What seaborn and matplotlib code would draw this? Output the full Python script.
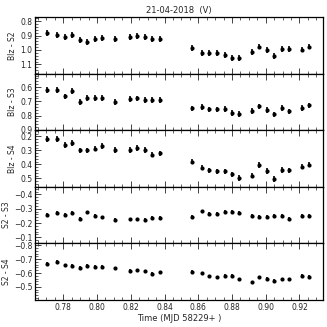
import numpy as np
import pandas as pd
import matplotlib
matplotlib.use('Agg')
import matplotlib.pyplot as plt
from matplotlib.ticker import MultipleLocator, AutoMinorLocator
import seaborn as sns

# time of each frame (MJD - 58229)
time = [0.7705, 0.7764, 0.7810, 0.7853, 0.7899, 0.7942, 0.7988, 0.8031, 0.8107,
        0.8196, 0.8239, 0.8283, 0.8328, 0.8374,
        0.8563, 0.8623, 0.8666, 0.8712, 0.8758, 0.8802, 0.8844, 0.8919, 0.8963,
        0.9006, 0.9050, 0.9095, 0.9139, 0.9214, 0.9257]

blz_s2 = [0.880, 0.894, 0.910, 0.894, 0.933, 0.945, 0.926, 0.915, 0.926, 0.908,
          0.903, 0.908, 0.926, 0.926, 0.987, 1.020, 1.020, 1.020, 1.032, 1.053,
          1.055, 1.013, 0.976, 1.001, 1.044, 0.994, 0.994, 0.997, 0.976]
blz_s3 = [0.623, 0.623, 0.666, 0.626, 0.705, 0.675, 0.677, 0.677, 0.705, 0.684,
          0.680, 0.691, 0.691, 0.691, 0.750, 0.741, 0.757, 0.757, 0.755, 0.783,
          0.787, 0.766, 0.736, 0.762, 0.792, 0.745, 0.771, 0.748, 0.729]
blz_s4 = [0.219, 0.219, 0.259, 0.247, 0.300, 0.300, 0.287, 0.270, 0.296, 0.296,
          0.284, 0.298, 0.329, 0.321, 0.380, 0.422, 0.443, 0.450, 0.450, 0.471,
          0.496, 0.480, 0.405, 0.448, 0.502, 0.441, 0.443, 0.415, 0.401]
s2_s3 = [-0.259, -0.271, -0.256, -0.271, -0.231, -0.275, -0.252, -0.240, -0.224, -0.226,
         -0.226, -0.224, -0.238, -0.238, -0.242, -0.282, -0.266, -0.266, -0.280, -0.278,
         -0.273, -0.249, -0.242, -0.245, -0.252, -0.252, -0.231, -0.252, -0.252]
s2_s4 = [-0.667, -0.679, -0.655, -0.652, -0.636, -0.650, -0.643, -0.645, -0.633, -0.614,
         -0.619, -0.612, -0.595, -0.605, -0.610, -0.598, -0.576, -0.569, -0.579, -0.579,
         -0.555, -0.533, -0.569, -0.557, -0.543, -0.555, -0.555, -0.581, -0.574]

err_blz = 0.02
err_ss = 0.012

panels = [
    ('Blz - S2', blz_s2, err_blz, (1.163, 0.772), 0.1),
    ('Blz - S3', blz_s3, err_blz, (0.902, 0.506), 0.1),
    ('Blz - S4', blz_s4, err_blz, (0.559, 0.155), 0.1),
    ('S2 - S3', s2_s3, err_ss, (-0.058, -0.454), 0.1),
    ('S2 - S4', s2_s4, err_ss, (-0.407, -0.814), 0.1),
]

sns.set_style('white')
plt.rcParams['font.family'] = ['DejaVu Sans']

fig, axes = plt.subplots(5, 1, figsize=(3.27, 3.27), dpi=100, sharex=True)
fig.subplots_adjust(left=0.107, right=0.988, top=0.948, bottom=0.083, hspace=0)

for ax, (label, vals, err, ylim, step) in zip(axes, panels):
    df = pd.DataFrame({'t': time, 'v': vals})
    ax.errorbar(df['t'], df['v'], yerr=err, fmt='none', ecolor='black',
                elinewidth=1.2, capsize=0, zorder=2)
    sns.scatterplot(data=df, x='t', y='v', ax=ax, color='black', marker='o',
                    s=9, edgecolor='black', linewidth=0, zorder=3)
    ax.set_ylim(ylim)
    ax.set_xlim(0.7632, 0.934)
    ax.set_ylabel(label, fontsize=5.5, labelpad=2)
    ax.set_xlabel('')
    ax.yaxis.set_major_locator(MultipleLocator(step))
    ax.yaxis.set_minor_locator(AutoMinorLocator(5))
    ax.xaxis.set_major_locator(MultipleLocator(0.02))
    ax.xaxis.set_minor_locator(MultipleLocator(0.005))
    ax.tick_params(axis='both', which='both', direction='in', top=True,
                   bottom=True, left=True, right=False, labelsize=5.5, pad=2)
    ax.tick_params(axis='both', which='major', length=4, width=0.6)
    ax.tick_params(axis='both', which='minor', length=2, width=0.5)
    for sp in ax.spines.values():
        sp.set_color('black')
        sp.set_linewidth(0.9)

axes[0].set_title('21-04-2018  (V)', fontsize=6, pad=3)
axes[-1].set_xlabel('Time (MJD 58229+ )', fontsize=6, labelpad=2)

fig.savefig('out.png', dpi=100)
